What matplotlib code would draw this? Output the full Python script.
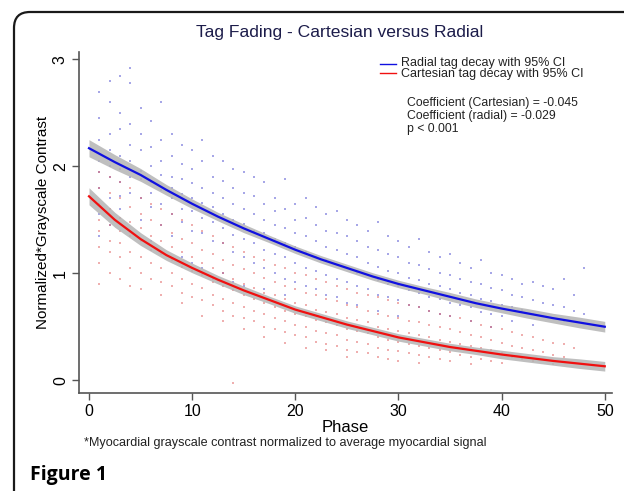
import matplotlib
matplotlib.use("Agg")
import matplotlib.pyplot as plt
from matplotlib.patches import PathPatch
from matplotlib.path import Path
from matplotlib.lines import Line2D

plt.rcParams['font.family'] = ['Liberation Sans', 'DejaVu Sans']

# ---------------- data ----------------
fit_phase = [0, 2.5, 5, 7.5, 10, 12.5, 15, 17.5, 20, 22.5, 25,
             27.5, 30, 32.5, 35, 37.5, 40, 42.5, 45, 47.5, 50]
radial_fit = [2.17, 2.04, 1.92, 1.78, 1.65, 1.53, 1.42, 1.32, 1.22, 1.13, 1.05,
              0.97, 0.90, 0.84, 0.78, 0.72, 0.67, 0.625, 0.58, 0.54, 0.50]
radial_ci = [0.08, 0.07, 0.06, 0.05, 0.045, 0.04, 0.04, 0.035, 0.035, 0.035, 0.035,
             0.035, 0.035, 0.035, 0.04, 0.04, 0.04, 0.045, 0.045, 0.05, 0.05]
cart_fit = [1.72, 1.50, 1.32, 1.17, 1.05, 0.94, 0.84, 0.75, 0.66, 0.59, 0.52,
            0.46, 0.40, 0.355, 0.31, 0.275, 0.24, 0.21, 0.18, 0.155, 0.13]
cart_ci = [0.08, 0.07, 0.06, 0.05, 0.045, 0.04, 0.04, 0.035, 0.035, 0.035, 0.035,
           0.035, 0.035, 0.035, 0.035, 0.035, 0.04, 0.04, 0.04, 0.045, 0.045]

radial_phase = list(range(1, 49))
radial_values = [
    [2.70, 2.45, 2.25, 2.05, 1.95, 1.80, 1.55, 1.35],
    [2.80, 2.60, 2.30, 2.15, 2.00, 1.90, 1.70, 1.45],
    [2.85, 2.50, 2.35, 2.10, 1.98, 1.85, 1.72, 1.60],
    [2.92, 2.78, 2.40, 2.20, 2.05, 1.90, 1.75, 1.40],
    [2.55, 2.30, 2.15, 1.96, 1.88, 1.70, 1.50],
    [2.42, 2.18, 2.00, 1.85, 1.75, 1.62, 1.30],
    [2.60, 2.25, 2.05, 1.92, 1.78, 1.65, 1.45, 1.20],
    [2.30, 2.10, 1.90, 1.80, 1.70, 1.55, 1.35],
    [2.20, 2.02, 1.88, 1.74, 1.60, 1.48, 1.15],
    [2.15, 1.98, 1.84, 1.70, 1.58, 1.40, 1.10],
    [2.25, 2.05, 1.80, 1.66, 1.52, 1.38, 1.05],
    [2.10, 1.90, 1.75, 1.62, 1.48, 1.30, 0.95],
    [2.05, 1.86, 1.70, 1.55, 1.42, 1.28, 1.00],
    [1.98, 1.80, 1.65, 1.50, 1.36, 1.20, 0.92],
    [1.95, 1.75, 1.60, 1.46, 1.32, 1.15, 0.88],
    [1.90, 1.72, 1.55, 1.40, 1.28, 1.10],
    [1.85, 1.65, 1.50, 1.38, 1.22, 1.05, 0.85],
    [1.70, 1.58, 1.45, 1.32, 1.18, 1.00],
    [1.88, 1.60, 1.42, 1.28, 1.15, 0.95, 0.80],
    [1.65, 1.50, 1.38, 1.25, 1.10, 0.92],
    [1.70, 1.52, 1.35, 1.20, 1.05, 0.88],
    [1.62, 1.45, 1.30, 1.15, 1.02, 0.85],
    [1.55, 1.40, 1.25, 1.12, 0.98, 0.80],
    [1.58, 1.38, 1.22, 1.08, 0.95, 0.78],
    [1.50, 1.35, 1.18, 1.05, 0.92, 0.72],
    [1.45, 1.30, 1.15, 1.00, 0.88, 0.70],
    [1.40, 1.25, 1.10, 0.98, 0.85],
    [1.48, 1.22, 1.06, 0.94, 0.80, 0.65],
    [1.35, 1.18, 1.02, 0.90, 0.78],
    [1.30, 1.15, 1.00, 0.88, 0.75, 0.60],
    [1.25, 1.10, 0.96, 0.84, 0.70],
    [1.32, 1.08, 0.94, 0.82, 0.68],
    [1.20, 1.04, 0.90, 0.78, 0.65],
    [1.15, 1.00, 0.88, 0.76, 0.62],
    [1.18, 0.98, 0.85, 0.72, 0.60],
    [1.10, 0.95, 0.82, 0.70],
    [1.05, 0.92, 0.80, 0.68, 0.55],
    [1.12, 0.90, 0.76, 0.64],
    [1.00, 0.86, 0.74, 0.62, 0.50],
    [0.98, 0.84, 0.70, 0.60],
    [0.95, 0.80, 0.68, 0.55],
    [0.90, 0.78, 0.66],
    [0.92, 0.75, 0.62, 0.52],
    [0.88, 0.72, 0.60],
    [0.85, 0.70, 0.58],
    [0.95, 0.68, 0.55],
    [0.80, 0.65],
    [1.05, 0.62],
]

cart_phase = list(range(1, 48))
cart_values = [
    [1.95, 1.80, 1.65, 1.50, 1.40, 1.25, 1.10, 0.90],
    [1.90, 1.75, 1.60, 1.45, 1.30, 1.20, 1.00],
    [1.85, 1.70, 1.52, 1.40, 1.28, 1.15, 0.95],
    [1.80, 1.62, 1.48, 1.35, 1.20, 1.05, 0.88],
    [1.70, 1.55, 1.42, 1.30, 1.15, 1.00, 0.85],
    [1.65, 1.50, 1.35, 1.22, 1.10, 0.95],
    [1.60, 1.45, 1.30, 1.18, 1.05, 0.92, 0.80],
    [1.55, 1.38, 1.25, 1.12, 1.00, 0.88],
    [1.50, 1.32, 1.20, 1.06, 0.95, 0.82, 0.72],
    [1.45, 1.28, 1.15, 1.02, 0.90, 0.78],
    [1.40, 1.22, 1.10, 0.98, 0.86, 0.75, 0.60],
    [1.35, 1.18, 1.05, 0.92, 0.80, 0.70],
    [1.28, 1.12, 1.00, 0.88, 0.76, 0.65, 0.55],
    [1.25, 1.08, 0.95, 0.84, 0.72, 0.60, -0.03],
    [1.20, 1.04, 0.90, 0.80, 0.68, 0.58, 0.48],
    [1.15, 1.00, 0.86, 0.76, 0.65, 0.55],
    [1.12, 0.96, 0.82, 0.72, 0.62, 0.50, 0.40],
    [1.08, 0.92, 0.80, 0.68, 0.58, 0.48],
    [1.05, 0.88, 0.76, 0.65, 0.55, 0.45, 0.35],
    [1.00, 0.85, 0.72, 0.62, 0.52, 0.42],
    [0.98, 0.82, 0.70, 0.60, 0.50, 0.40, 0.30],
    [0.95, 0.80, 0.66, 0.56, 0.46, 0.36],
    [0.92, 0.76, 0.64, 0.54, 0.44, 0.34, 0.28],
    [0.88, 0.74, 0.62, 0.52, 0.42, 0.32],
    [0.85, 0.70, 0.58, 0.48, 0.38, 0.28, 0.22],
    [0.82, 0.68, 0.56, 0.46, 0.36, 0.26],
    [0.80, 0.65, 0.54, 0.44, 0.34, 0.25],
    [0.78, 0.62, 0.50, 0.40, 0.30, 0.22],
    [0.75, 0.60, 0.48, 0.38, 0.28, 0.20],
    [0.72, 0.58, 0.46, 0.36, 0.27, 0.18],
    [0.70, 0.55, 0.44, 0.34, 0.25],
    [0.68, 0.54, 0.42, 0.32, 0.24, 0.16],
    [0.65, 0.52, 0.40, 0.30, 0.22],
    [0.62, 0.50, 0.38, 0.28, 0.20],
    [0.60, 0.48, 0.36, 0.26, 0.18],
    [0.58, 0.45, 0.34, 0.24],
    [0.55, 0.42, 0.32, 0.22, 0.15],
    [0.52, 0.40, 0.30, 0.20],
    [0.50, 0.38, 0.28, 0.18],
    [0.48, 0.35, 0.25, 0.16],
    [0.45, 0.32, 0.22],
    [0.42, 0.30, 0.20],
    [0.40, 0.28, 0.18],
    [0.38, 0.26],
    [0.35, 0.24, 0.15],
    [0.34, 0.22],
    [0.30],
]

x_ticks = [0, 10, 20, 30, 40, 50]
y_ticks = [0, 1, 2, 3]

title = "Tag Fading - Cartesian versus Radial"
legend_labels = ["Radial tag decay with 95% CI", "Cartesian tag decay with 95% CI"]
stats_text = ["Coefficient (Cartesian) = -0.045", "Coefficient (radial) = -0.029", "p < 0.001"]

# ---------------- figure ----------------
W, H = 624, 491
fig = plt.figure(figsize=(W / 100, H / 100), dpi=100)
fig.patch.set_facecolor('white')


def fx(px):
    return px / W


def fy(py):
    return 1 - py / H


# rounded frame (top + left edge with a rounded corner), pixel geometry
left, top, r = 14, 12, 16
verts = [(fx(left), fy(H + 10)), (fx(left), fy(top + r)), (fx(left), fy(top)),
         (fx(left + r), fy(top)), (fx(W + 10), fy(top))]
codes = [Path.MOVETO, Path.LINETO, Path.CURVE3, Path.CURVE3, Path.LINETO]
fig.patches.append(PathPatch(Path(verts, codes), transform=fig.transFigure,
                             fill=False, edgecolor='#1a1a1a', linewidth=1.6))

ax = fig.add_axes([fx(79), fy(393), (612 - 79) / W, (393 - 52) / H])

blue = '#1010e0'
red = '#f01010'
band = '#b4b4b4'

# scatter points
bx, by = [], []
for p, vals in zip(radial_phase, radial_values):
    for v in vals:
        bx.append(p)
        by.append(v)
rx, ry = [], []
for p, vals in zip(cart_phase, cart_values):
    for v in vals:
        rx.append(p)
        ry.append(v)
ax.scatter(bx, by, s=1.5, color='#5050d0', alpha=0.5, linewidths=0, marker='s', zorder=1)
ax.scatter(rx, ry, s=1.5, color='#e06060', alpha=0.5, linewidths=0, marker='s', zorder=1)

# CI bands and fits
r_lo = [f - c for f, c in zip(radial_fit, radial_ci)]
r_hi = [f + c for f, c in zip(radial_fit, radial_ci)]
c_lo = [f - c for f, c in zip(cart_fit, cart_ci)]
c_hi = [f + c for f, c in zip(cart_fit, cart_ci)]
ax.fill_between(fit_phase, r_lo, r_hi, color=band, alpha=0.85, linewidth=0, zorder=2)
ax.fill_between(fit_phase, c_lo, c_hi, color=band, alpha=0.85, linewidth=0, zorder=2)
ax.plot(fit_phase, radial_fit, color=blue, lw=1.6, zorder=3)
ax.plot(fit_phase, cart_fit, color=red, lw=1.6, zorder=3)

ax.set_xlim(-0.97, 50.7)
ax.set_ylim(-0.12, 3.07)
ax.set_xticks(x_ticks)
ax.set_yticks(y_ticks)
ax.set_yticklabels([str(t) for t in y_ticks], rotation=90, va='center')
ax.tick_params(axis='both', direction='out', length=5, width=1, color='#555555',
               labelsize=11.5, labelcolor='black', pad=3)
for s in ['top', 'right']:
    ax.spines[s].set_visible(False)
for s in ['left', 'bottom']:
    ax.spines[s].set_color('#555555')
    ax.spines[s].set_linewidth(1.2)

ax.set_xlabel('Phase', fontsize=12, labelpad=1)
ax.set_ylabel('Normalized*Grayscale Contrast', fontsize=11, labelpad=2)

fig.text(fx(340), fy(33), title, ha='center', va='center', fontsize=12.6, color='#1c1c4a')

# legend (manual)
fig.add_artist(Line2D([fx(380), fx(396)], [fy(64), fy(64)], color=blue, lw=1, transform=fig.transFigure))
fig.add_artist(Line2D([fx(380), fx(396)], [fy(73), fy(73)], color=red, lw=1, transform=fig.transFigure))
fig.text(fx(401), fy(63), legend_labels[0], ha='left', va='center', fontsize=9, color='#222222')
fig.text(fx(401), fy(74), legend_labels[1], ha='left', va='center', fontsize=9, color='#222222')
for i, t in enumerate(stats_text):
    fig.text(fx(407), fy(103 + 13 * i), t, ha='left', va='center', fontsize=8.8, color='#222222')

fig.text(fx(84), fy(443), "*Myocardial grayscale contrast normalized to average myocardial signal",
         ha='left', va='center', fontsize=9.1, color='#222222')
fig.text(fx(30), fy(475), "Figure 1", ha='left', va='center', fontsize=14,
         fontweight='bold', family=['Open Sans', 'DejaVu Sans'], color='black')

fig.savefig('out.png', dpi=100, facecolor='white')
